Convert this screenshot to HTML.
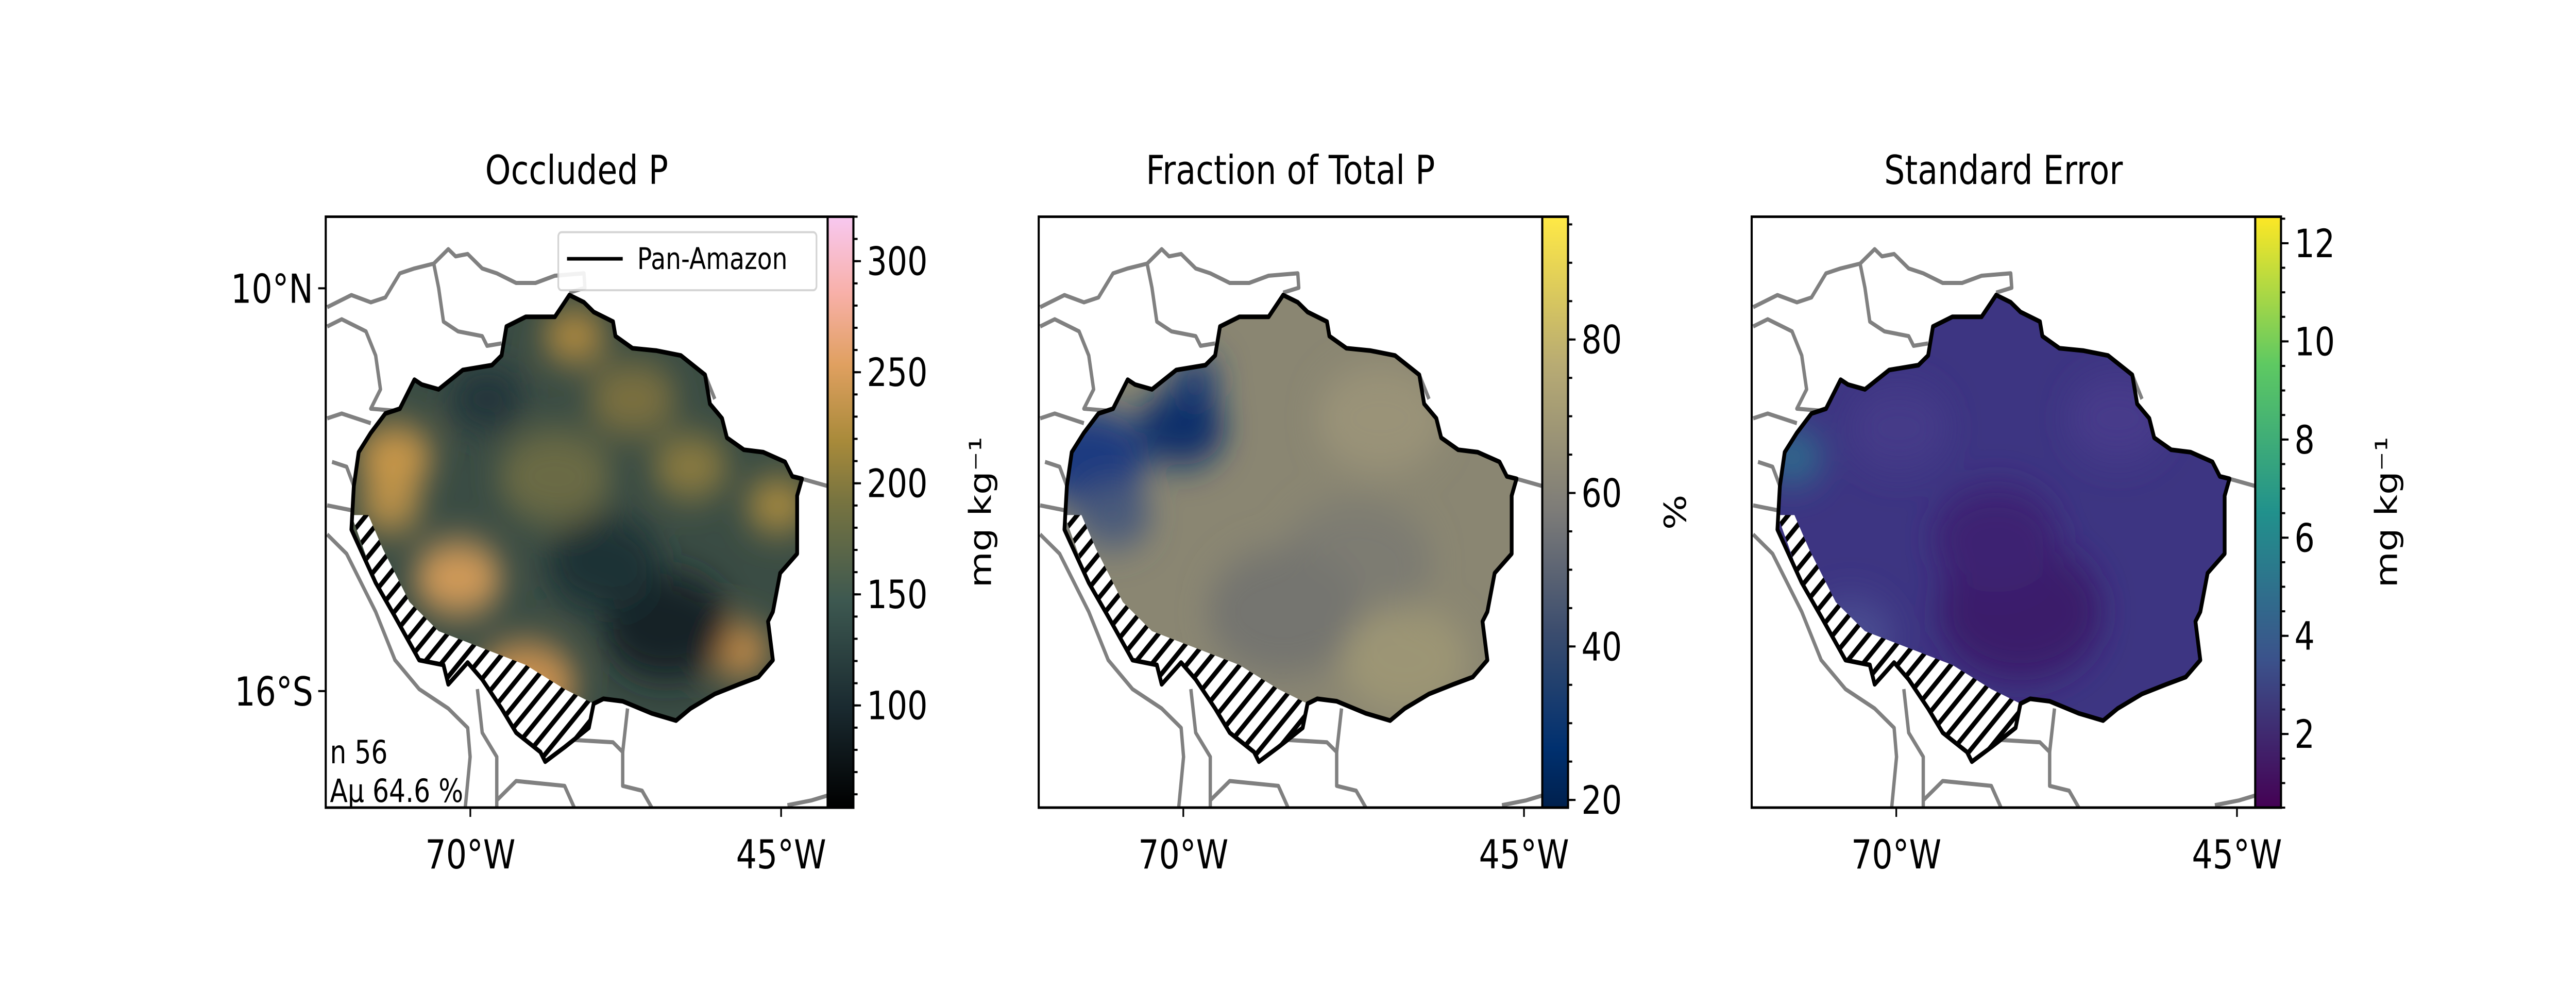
<!DOCTYPE html>
<html><head><meta charset="utf-8">
<style>
html,body{margin:0;padding:0;background:#fff;overflow:hidden;width:100%;height:100%;}
svg{display:block;width:100vw;height:100vh;font-family:"DejaVu Sans","Liberation Sans",sans-serif;}
</style></head>
<body>
<svg id="fig" viewBox="0 0 6149 1950" preserveAspectRatio="none" xmlns="http://www.w3.org/2000/svg">
<defs>
<pattern id="hatch" patternUnits="userSpaceOnUse" width="30" height="30" patternTransform="rotate(45)">
<rect width="30" height="30" fill="#fff"/><rect width="10" height="30" fill="#000"/>
</pattern>
<linearGradient id="cm1" x1="0" y1="1" x2="0" y2="0">
<stop offset="0" stop-color="#000000"/><stop offset="0.17" stop-color="#1a2a30"/><stop offset="0.35" stop-color="#3d5850"/><stop offset="0.52" stop-color="#787440"/><stop offset="0.62" stop-color="#a88a3a"/><stop offset="0.75" stop-color="#e0a060"/><stop offset="0.87" stop-color="#f8b0a8"/><stop offset="1" stop-color="#f8c8f0"/>
</linearGradient>
<linearGradient id="cm2" x1="0" y1="1" x2="0" y2="0">
<stop offset="0" stop-color="#00204d"/><stop offset="0.1" stop-color="#00306f"/><stop offset="0.3" stop-color="#3c4d6e"/><stop offset="0.5" stop-color="#7c7b78"/><stop offset="0.75" stop-color="#b8ab73"/><stop offset="1" stop-color="#ffe945"/>
</linearGradient>
<linearGradient id="cm3" x1="0" y1="1" x2="0" y2="0">
<stop offset="0" stop-color="#440154"/><stop offset="0.25" stop-color="#3b528b"/><stop offset="0.5" stop-color="#21918c"/><stop offset="0.75" stop-color="#5ec962"/><stop offset="1" stop-color="#fde725"/>
</linearGradient>
<filter id="blur" x="-50%" y="-50%" width="200%" height="200%"><feGaussianBlur stdDeviation="35"/></filter>
</defs>
<g id="root"></g>
</svg>
<script>
// colorbar tick data
const cb1Ticks = [100, 150, 200, 250, 300];
const cb1Range = [54, 320];
const cb2Ticks = [20, 40, 60, 80];
const cb2Range = [19, 96];
const cb3Ticks = [2, 4, 6, 8, 10, 12];
const cb3Range = [0.5, 12.54];
const titles = ["Occluded P", "Fraction of Total P", "Standard Error"];
const cbLabels = ["mg kg\u207B\u00B9", "%", "mg kg\u207B\u00B9"];
const xTickLabels = ["70°W", "45°W"];
const yTickLabels = ["10°N", "16°S"];

const S = 6149/1550;
const NS = "http://www.w3.org/2000/svg";
const root = document.getElementById('root');
function el(tag, attrs, parent){const e=document.createElementNS(NS,tag);for(const k in attrs)e.setAttribute(k,attrs[k]);(parent||root).appendChild(e);return e;}

const panels = [
 {x0:196,x1:498,cb:"cm1",ticks:cb1Ticks,range:cb1Range,minor:10,xt:[283,470],base:"#3a4c44",lx:590},
 {x0:625,x1:928,cb:"cm2",ticks:cb2Ticks,range:cb2Range,minor:5,xt:[712,917],base:"#8a8672",lx:1008},
 {x0:1054,x1:1357,cb:"cm3",ticks:cb3Ticks,range:cb3Range,minor:0.5,xt:[1141,1346],base:"#3d3582",lx:1436}
];
const Y0=106*S, Y1=395*S;

const outline=[[650,345],[680,360],[700,380],[740,400],[745,430],[780,455],[830,460],[880,470],[930,510],[940,570],[965,600],[975,640],[1010,665],[1050,670],[1095,690],[1110,720],[1130,725],[1120,760],[1120,880],[1085,920],[1070,1000],[1060,1020],[1070,1100],[1040,1135],[1000,1150],[950,1170],[900,1200],[870,1225],[820,1210],[760,1185],[720,1180],[700,1190],[690,1240],[640,1280],[600,1310],[590,1290],[540,1250],[510,1200],[470,1140],[440,1105],[400,1150],[390,1110],[340,1100],[290,1010],[250,940],[200,830],[205,740],[215,670],[240,630],[270,590],[300,580],[330,520],[345,530],[380,540],[430,500],[490,490],[510,470],[520,410],[560,390],[620,390],[640,360]];
const hatchBand=[[200,800],[250,940],[290,1010],[340,1100],[390,1110],[400,1150],[440,1105],[470,1140],[510,1200],[540,1250],[590,1290],[600,1310],[640,1280],[690,1240],[700,1190],[640,1160],[560,1110],[470,1075],[380,1040],[320,980],[265,870],[235,800]];
const borders=[
 [[150,370],[200,345],[240,360],[270,350],[300,300],[330,290],[370,280],[400,250],[415,265],[440,260],[470,290],[500,300],[540,320],[580,320],[620,305],[680,300],[682,330],[650,340]],
 [[150,410],[180,395],[230,420],[250,470],[260,540],[240,580],[300,585],[330,520]],
 [[370,280],[380,330],[390,400],[420,420],[470,430],[480,450],[510,445]],
 [[150,600],[180,590],[240,610]],
 [[160,690],[190,700],[205,740]],
 [[150,780],[200,790]],
 [[150,840],[190,880],[250,1000],[290,1100],[340,1160],[400,1200],[440,1240],[445,1300],[435,1405]],
 [[460,1160],[470,1250],[500,1300],[500,1405]],
 [[500,1390],[540,1350],[640,1360],[660,1405]],
 [[640,1280],[660,1265],[740,1270],[760,1290],[770,1200]],
 [[760,1290],[760,1360],[800,1370],[820,1405]],
 [[1130,725],[1183,740]],
 [[1100,1400],[1150,1390],[1183,1380]],
 [[930,510],[950,560]]
];
const blobs1=[[290,680,60,"#c8964a"],[280,780,50,"#b89048"],[420,930,70,"#d09a58"],[560,1150,80,"#c89050"],[660,430,50,"#b08a40"],[1000,1080,50,"#c08a48"],[900,700,60,"#8a7a40"],[620,720,90,"#6a6a44"],[850,1030,100,"#152328"],[720,900,90,"#1f3036"],[480,560,60,"#22363a"],[1080,780,50,"#a88a40"],[780,560,70,"#7a7040"]];
const blobs2=[[250,680,90,"#1a3a80"],[440,620,70,"#0c2f6a"],[470,520,40,"#233f75"],[300,800,60,"#4a5a7a"],[800,900,120,"#7d7c72"],[650,1000,120,"#747570"],[900,1100,100,"#9c9575"],[850,600,100,"#9a9378"]];
const blobs3=[[230,680,50,"#2f6a8c"],[700,1000,130,"#3a1a6a"],[650,850,100,"#3d2372"],[450,620,80,"#453a88"],[900,600,80,"#463b8a"],[350,1050,70,"#4a4c90"]];
const blobSets=[blobs1,blobs2,blobs3];

panels.forEach((p,i)=>{
 const X0=p.x0*S, X1=p.x1*S, W=X1-X0, H=Y1-Y0;
 const fx=zx=>X0+(zx-147)/1036*W, fy=zy=>Y0+(zy-183)/1222*H;
 const pts=a=>a.map(q=>fx(q[0]).toFixed(1)+","+fy(q[1]).toFixed(1)).join(" ");
 const g=el('g',{});
 
 
 const cid='clipA'+i;
 const cp=el('clipPath',{id:cid},g); el('polygon',{points:pts(outline)},cp);
 const ca='clipAx'+i;
 const cpa=el('clipPath',{id:ca},g); el('rect',{x:X0,y:Y0,width:W,height:H},cpa);
 const bg=el('g',{'clip-path':'url(#'+ca+')'},g);
 
 
 borders.forEach(b=>el('polyline',{points:pts(b),fill:'none',stroke:'#808080','stroke-width':8,'stroke-linejoin':'round'},bg));
 const dg=el('g',{'clip-path':'url(#'+cid+')'},g);
 
 
 el('polygon',{points:pts(outline),fill:p.base},dg);
 const bl=el('g',{filter:'url(#blur)'},dg);
 blobSets[i].forEach(b=>el('ellipse',{cx:fx(b[0]),cy:fy(b[1]),rx:b[2]*W/1036*1.3,ry:b[2]*H/1222*1.1,fill:b[3]},bl));
 const h=el('polygon',{points:pts(hatchBand),fill:'url(#hatch)'},dg);
 
 
 const ol=el('polygon',{points:pts(outline),fill:'none',stroke:'#000','stroke-width':9,'stroke-linejoin':'round'},g);
 
 
 const fr=el('rect',{x:X0,y:Y0,width:W,height:H,fill:'none',stroke:'#000','stroke-width':5},g);
 
 
 const t=el('text',{x:(X0+X1)/2,y:90*S,'text-anchor':'middle','font-size':78},g);
 t.textContent=titles[i];
 
 
 p.xt.forEach((xx,k)=>{
  el('line',{x1:xx*S,x2:xx*S,y1:Y1,y2:Y1+18,stroke:'#000','stroke-width':4},g);
  const tl=el('text',{x:xx*S,y:Y1+118,'text-anchor':'middle','font-size':78},g);
  tl.textContent=xTickLabels[k];
  
  
 });
 if(i===0){
  [141,338].forEach((yy,k)=>{
   el('line',{x1:X0-18,x2:X0,y1:yy*S,y2:yy*S,stroke:'#000','stroke-width':4},g);
   const tl=el('text',{x:X0-30,y:yy*S+28,'text-anchor':'end','font-size':78},g);
   tl.textContent=yTickLabels[k];
   
   
  });
  const lg=el('g',{},g);
  
  
  el('rect',{x:fx(627),y:fy(215),width:fx(1160)-fx(627),height:fy(335)-fy(215),rx:8,fill:'#fff',stroke:'#d0d0d0','stroke-width':4,opacity:0.9},lg);
  el('line',{x1:fx(645),x2:fx(760),y1:fy(270),y2:fy(270),stroke:'#000','stroke-width':7},lg);
  const lt=el('text',{x:fx(790),y:fy(270)+20,'font-size':58},lg);
  lt.textContent='Pan-Amazon';
  
  
  const a1=el('text',{x:X0+10,y:fy(1290)+22,'font-size':62},g);
  a1.textContent='n 56';
  
  
  const a2=el('text',{x:X0+10,y:fy(1370)+22,'font-size':62},g);
  a2.textContent='A\u03BC 64.6 %';
  
  
 }
 const cx0=X1, cw=15.5*S;
 const cg=el('g',{},g);
 
 
 el('rect',{x:cx0,y:Y0,width:cw,height:H,fill:'url(#'+p.cb+')',stroke:'#000','stroke-width':5},cg);
 const vy=v=>Y1-(v-p.range[0])/(p.range[1]-p.range[0])*H;
 for(let v=Math.ceil(p.range[0]/p.minor)*p.minor; v<=p.range[1]; v+=p.minor){
  el('line',{x1:cx0+cw,x2:cx0+cw+10,y1:vy(v),y2:vy(v),stroke:'#000','stroke-width':4},cg);
 }
 p.ticks.forEach(v=>{
  el('line',{x1:cx0+cw,x2:cx0+cw+18,y1:vy(v),y2:vy(v),stroke:'#000','stroke-width':4},cg);
  const tl=el('text',{x:cx0+cw+32,y:vy(v)+27,'font-size':76},cg);
  tl.textContent=v;
  
  
 });
 const cl=el('text',{x:0,y:0,'text-anchor':'middle','font-size':72,transform:'translate('+(p.lx*S+25)+','+((Y0+Y1)/2)+') rotate(-90)'},cg);
 cl.textContent=cbLabels[i];
 
 
});
</script>
</body></html>
